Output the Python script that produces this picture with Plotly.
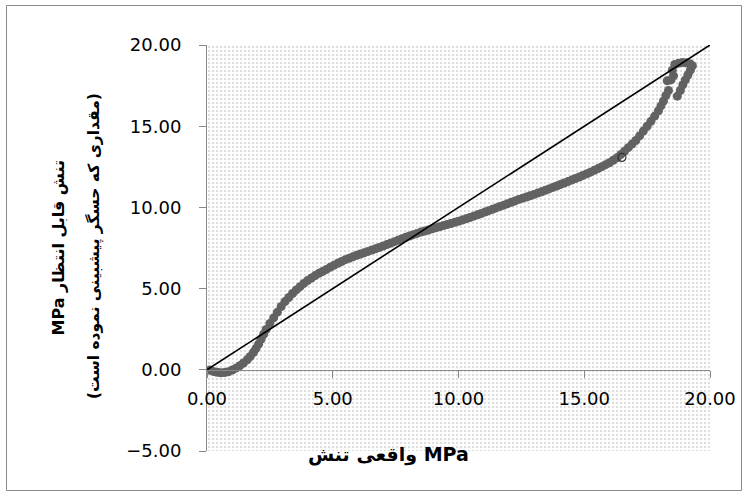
import plotly.graph_objects as go

# ---- data ----
actual_stress = [
    0.10, 0.25, 0.40, 0.55, 0.70, 0.85, 1.00, 1.15, 1.30, 1.45, 1.60, 1.72, 1.85, 1.95,
    2.05, 2.15, 2.25, 2.35, 2.50, 2.65, 2.80, 2.95, 3.10, 3.25, 3.40, 3.55, 3.70, 3.85,
    4.00, 4.15, 4.30, 4.45, 4.60, 4.75, 4.90, 5.05, 5.20, 5.35, 5.50, 5.65, 5.80, 5.95,
    6.10, 6.25, 6.40, 6.55, 6.70, 6.85, 7.00, 7.15, 7.30, 7.45, 7.60, 7.75, 7.90, 8.05,
    8.20, 8.35, 8.50, 8.65, 8.80, 8.95, 9.10, 9.25, 9.40, 9.55, 9.70, 9.85, 10.00, 10.15,
    10.30, 10.45, 10.60, 10.75, 10.90, 11.05, 11.20, 11.35, 11.50, 11.65, 11.80, 11.95,
    12.10, 12.25, 12.40, 12.55, 12.70, 12.85, 13.00, 13.15, 13.30, 13.45, 13.60, 13.75,
    13.90, 14.05, 14.20, 14.35, 14.50, 14.65, 14.80, 14.95, 15.10, 15.25, 15.40, 15.55,
    15.70, 15.85, 16.00, 16.15, 16.30, 16.45, 16.60, 16.75, 16.90, 17.05, 17.20, 17.35,
    17.50, 17.65, 17.80, 17.95, 18.05, 18.15, 18.25, 18.35, 18.30, 18.45, 18.55, 18.50,
    18.60, 18.75, 18.90, 19.05, 19.20, 19.30, 19.22, 19.12, 19.02, 18.92, 18.82, 18.70,
]
predicted_stress = [
    -0.02, -0.10, -0.15, -0.18, -0.17, -0.12, -0.02, 0.10, 0.25, 0.42, 0.62, 0.82, 1.08, 1.32,
    1.58, 1.88, 2.18, 2.48, 2.85, 3.20, 3.55, 3.90, 4.20, 4.45, 4.70, 4.92, 5.12, 5.32,
    5.50, 5.65, 5.80, 5.94, 6.06, 6.18, 6.32, 6.44, 6.56, 6.67, 6.78, 6.87, 6.96, 7.05,
    7.13, 7.21, 7.29, 7.37, 7.45, 7.53, 7.62, 7.71, 7.80, 7.89, 7.98, 8.07, 8.16, 8.24,
    8.32, 8.40, 8.48, 8.54, 8.61, 8.68, 8.74, 8.81, 8.88, 8.94, 9.01, 9.08, 9.15, 9.22,
    9.30, 9.38, 9.46, 9.54, 9.62, 9.71, 9.80, 9.88, 9.97, 10.06, 10.14, 10.23,
    10.32, 10.40, 10.49, 10.57, 10.64, 10.72, 10.80, 10.88, 10.96, 11.05, 11.14, 11.23,
    11.32, 11.41, 11.50, 11.59, 11.68, 11.78, 11.87, 11.97, 12.07, 12.17, 12.28, 12.39,
    12.51, 12.63, 12.75, 12.90, 13.05, 13.25, 13.45, 13.68, 13.90, 14.12, 14.40, 14.70,
    15.00, 15.30, 15.62, 15.95, 16.25, 16.55, 16.90, 17.20, 17.80, 17.85, 18.10, 18.45,
    18.80, 18.88, 18.92, 18.90, 18.85, 18.72, 18.45, 18.15, 17.85, 17.55, 17.20, 16.85,
]
highlight_actual = [16.50]
highlight_predicted = [13.08]

ideal_x = [0, 20]
ideal_y = [0, 20]

x_range = [0, 20]
y_range = [-5, 20]

LRM, RLE, PDF = "\u200e", "\u202b", "\u202c"

x_title = "تنش" + LRM + " واقعی MPa"
y_title_1 = "تنش قابل انتظار MPa"
y_title_2 = "(مقداری که حسگر پیشبینی نموده است)"

W, H = 747, 496
ML, MR, MT, MB = 207, 37, 45, 45
PW, PH = W - ML - MR, H - MT - MB


def px_to_paper_x(px):
    return (px - ML) / PW


def px_to_paper_y(py):
    return (H - MB - py) / PH


fig = go.Figure()

# dotted plot-area background
fig.add_trace(go.Scatter(
    x=[x_range[0], x_range[1], x_range[1], x_range[0], x_range[0]],
    y=[y_range[0], y_range[0], y_range[1], y_range[1], y_range[0]],
    mode="lines", fill="toself",
    fillpattern=dict(shape=".", size=4, solidity=0.3, fgcolor="#bcbcbc", bgcolor="white"),
    line=dict(width=0), hoverinfo="skip", showlegend=False,
))

fig.add_trace(go.Scatter(
    x=actual_stress, y=predicted_stress, mode="markers",
    marker=dict(size=9, color="#626262", line=dict(width=0)),
    showlegend=False,
))

fig.add_trace(go.Scatter(
    x=ideal_x, y=ideal_y, mode="lines",
    line=dict(color="black", width=1.6), showlegend=False,
))

fig.add_trace(go.Scatter(
    x=highlight_actual, y=highlight_predicted, mode="markers",
    marker=dict(size=8, symbol="circle-open", color="#333333", line=dict(width=1.2)),
    showlegend=False,
))

tick_font = dict(family="DejaVu Sans", size=18, color="black")

fig.update_layout(
    width=W, height=H,
    margin=dict(l=ML, r=MR, t=MT, b=MB),
    paper_bgcolor="white", plot_bgcolor="white",
    xaxis=dict(
        range=x_range, dtick=5, tick0=0, tickformat=".2f",
        showgrid=False, zeroline=False, showline=True,
        linecolor="#888888", linewidth=1,
        ticks="outside", ticklen=7, tickcolor="#888888",
        tickfont=tick_font, anchor="free",
        position=(0 - y_range[0]) / (y_range[1] - y_range[0]),
        ticklabelstandoff=6,
    ),
    yaxis=dict(
        range=y_range, dtick=5, tick0=0, tickformat=".2f",
        showgrid=False, zeroline=False, showline=True,
        linecolor="#888888", linewidth=1,
        ticks="outside", ticklen=7, tickcolor="#888888",
        tickfont=tick_font, domain=[0, 1],
        ticklabelstandoff=14,
    ),
    annotations=[
        dict(text="<b>" + x_title + "</b>", xref="paper", yref="paper",
             x=px_to_paper_x(388), y=px_to_paper_y(468), showarrow=False,
             font=dict(family="DejaVu Sans", size=19, color="black")),
        dict(text="<b>" + RLE + y_title_1 + PDF + "</b>", xref="paper", yref="paper",
             x=px_to_paper_x(46), y=px_to_paper_y(248), showarrow=False, textangle=-90,
             font=dict(family="DejaVu Sans", size=16, color="black")),
        dict(text="<b>" + RLE + y_title_2 + PDF + "</b>", xref="paper", yref="paper",
             x=px_to_paper_x(82), y=px_to_paper_y(246), showarrow=False, textangle=-90,
             font=dict(family="DejaVu Sans", size=15.5, color="black")),
    ],
    shapes=[
        dict(type="rect", xref="paper", yref="paper",
             x0=px_to_paper_x(6.5), x1=px_to_paper_x(741.5),
             y0=px_to_paper_y(490.5), y1=px_to_paper_y(5.5),
             line=dict(color="#8a8a8a", width=1), fillcolor="rgba(0,0,0,0)", layer="below"),
    ],
)

fig.write_html("out.html")
